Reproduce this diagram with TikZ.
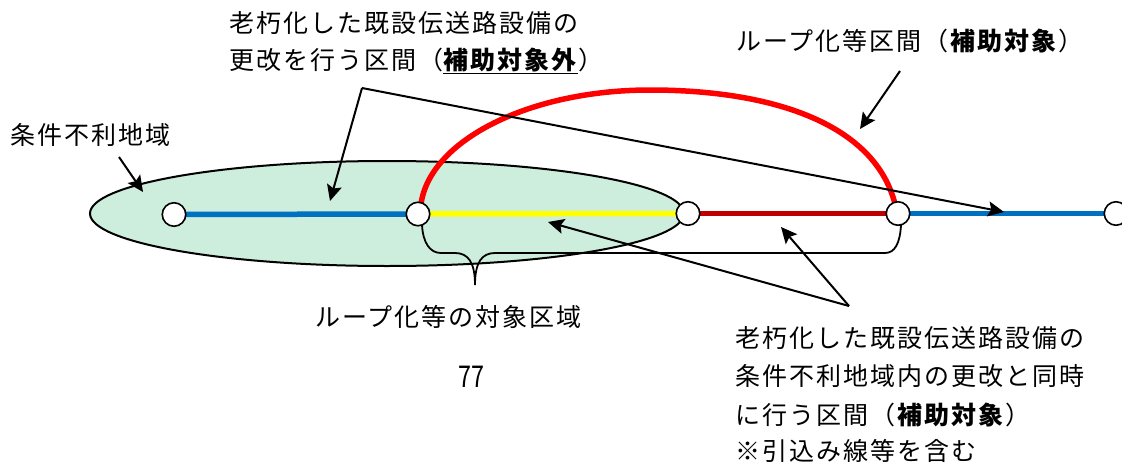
\documentclass[tikz,border=0pt]{standalone}
\usepackage{fontspec}
\setmainfont[LetterSpace=8]{Noto Sans CJK JP}
\newfontfamily\numfont[FakeStretch=0.78]{Noto Sans CJK JP}
\usetikzlibrary{arrows.meta}
\definecolor{gfill}{HTML}{CDEEDC}
\definecolor{lblue}{HTML}{0070C0}
\definecolor{dred}{HTML}{C00000}
\definecolor{bred}{HTML}{FF0000}
\definecolor{byel}{HTML}{FFFF00}
\tikzset{
 lab/.style={inner sep=0pt,anchor=west,font=\fontsize{25}{25}\selectfont},
 station/.style={circle,draw=black,fill=white,line width=1.6pt,minimum size=23.5pt,inner sep=0pt},
 seg/.style={line width=5.5pt},
 lead/.style={draw=black,line width=2pt},
 arr/.style={lead,-{Stealth[length=16pt,width=15pt,inset=3pt]}},
}
\begin{document}
\begin{tikzpicture}[x=1pt,y=-1pt]
\useasboundingbox (0,0) rectangle (1122,463);
\draw[fill=gfill,draw=black,line width=2pt] (387,213.5) ellipse [x radius=297,y radius=52.5];
\coordinate (p1) at (174,214.5);
\coordinate (p2) at (418,214);
\coordinate (p3) at (688,213.5);
\coordinate (p4) at (898,213.5);
\coordinate (p5) at (1116,213.5);
\draw[seg,lblue] (p1) -- (p2);
\draw[seg,byel] (p2) -- (p3);
\draw[seg,dred] (p3) -- (p4);
\draw[seg,lblue] (p4) -- (p5);
\draw[line width=5.5pt,bred] (p2) ++(3,-10) coordinate (ra) .. controls (430,140) and (530,90) .. (650,90) coordinate (rp) .. controls (775,90) and (875,125) .. (895,204) coordinate (rb);
\node[station] (s1) at (p1) {};
\node[station] (s2) at (p2) {};
\node[station] (s3) at (p3) {};
\node[station] (s4) at (p4) {};
\node[station] (s5) at (p5) {};
% brace
\draw[draw=black,line width=1.8pt] (422,225) .. controls (423,243) and (430,253) .. (441,253) -- (455,253) .. controls (468,253) and (475,262) .. (475,285) .. controls (475,262) and (482,253) .. (495,253) -- (885,253) .. controls (895,253) and (900,243) .. (901,225);
% leads
\coordinate (apexa) at (362,88);
\coordinate (apexb) at (849,306);
\coordinate (ta) at (330,201);
\coordinate (tb) at (1004,212);
\coordinate (tc) at (781,227);
\coordinate (td) at (548,222);
\draw[arr] (apexa) -- (ta);
\draw[arr] (apexa) -- (tb);
\draw[arr] (apexb) -- (tc);
\draw[arr] (apexb) -- (td);
\coordinate (e1) at (119,157);
\coordinate (f1) at (143,192);
\coordinate (e2) at (900,71);
\coordinate (f2) at (860,129);
\draw[arr] (e1) -- (f1);
\draw[arr] (e2) -- (f2);
% labels
\node[lab] (t1) at (229,23) {老朽化した既設伝送路設備の};
\node[lab] (t2) at (229,61) {更改を行う区間（\underline{\textbf{補助対象外}}）};
\node[lab] (t3) at (736,41) {ループ化等区間（\textbf{補助対象}）};
\node[lab] (t4) at (10,135) {条件不利地域};
\node[lab] (t5) at (315,317) {ループ化等の対象区域};
\node[lab] (t6) at (458,377) {\numfont\fontsize{30}{30}\selectfont 77};
\node[lab] (t7) at (735,338) {老朽化した既設伝送路設備の};
\node[lab] (t8) at (735,376) {条件不利地域内の更改と同時};
\node[lab] (t9) at (735,415) {に行う区間（\textbf{補助対象}）};
\node[lab] (t10) at (735,450.5) {※引込み線等を含む};
\end{tikzpicture}
\end{document}
